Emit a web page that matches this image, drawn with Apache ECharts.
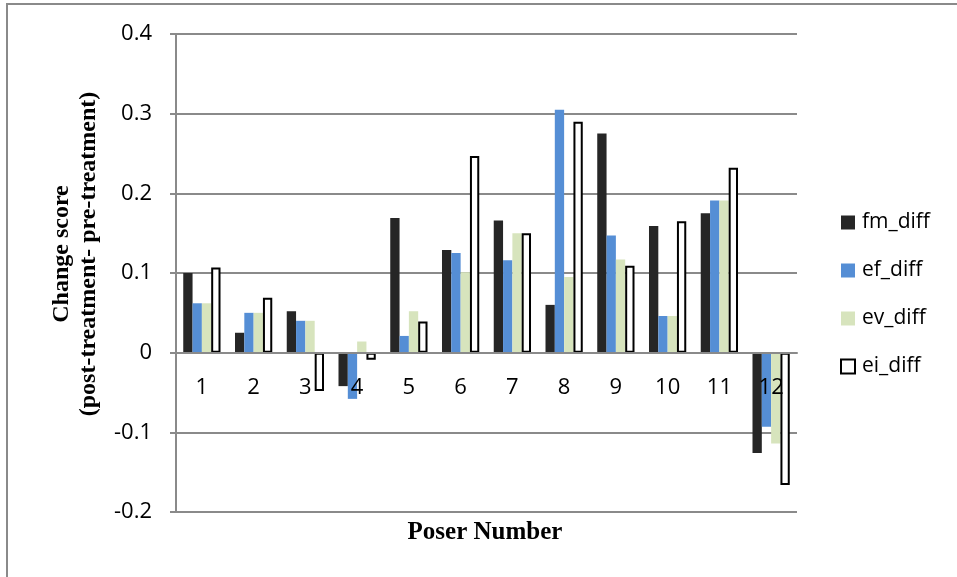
<!DOCTYPE html>
<html>
<head>
<meta charset="utf-8">
<script src="https://cdn.jsdelivr.net/npm/echarts@6/dist/echarts.min.js"></script>
<style>
  html, body { margin: 0; padding: 0; background: #fff; }
  #chart { width: 957px; height: 577px; }
</style>
</head>
<body>
<div id="chart"></div>
<script>
// Poser numbers along the category axis
const posers = ['1', '2', '3', '4', '5', '6', '7', '8', '9', '10', '11', '12'];

// Change scores (post-treatment minus pre-treatment) per measure
const fmDiff = [0.100, 0.025, 0.052, -0.042, 0.169, 0.129, 0.166, 0.060, 0.275, 0.159, 0.175, -0.126];
const efDiff = [0.062, 0.050, 0.040, -0.058, 0.021, 0.125, 0.116, 0.305, 0.147, 0.046, 0.191, -0.093];
const evDiff = [0.062, 0.050, 0.040, 0.014, 0.052, 0.101, 0.150, 0.095, 0.117, 0.046, 0.191, -0.114];
const eiDiff = [0.107, 0.069, -0.048, -0.009, 0.039, 0.247, 0.150, 0.290, 0.109, 0.165, 0.232, -0.166];

// Value axis range and step
const yMin = -0.2;
const yMax = 0.4;
const yStep = 0.1;

const seriesNames = ['fm_diff', 'ef_diff', 'ev_diff', 'ei_diff'];
const seriesValues = [fmDiff, efDiff, evDiff, eiDiff];
const seriesStyles = [
  { color: '#262626' },
  { color: '#558ed5' },
  { color: '#d7e4bd' },
  { color: '#ffffff', borderColor: '#000000', borderWidth: 2 }
];

const gridColor = '#8a8a8a';
const labelFont = '"Open Sans", "Liberation Sans", sans-serif';
const titleFont = '"Liberation Serif", "DejaVu Serif", serif';

const gridTop = 34;
const gridBottom = 65;
const chartHeight = 577;

const chart = echarts.init(document.getElementById('chart'), null, { renderer: 'canvas' });

// The category axis sits on the zero line: shift it up from the plot bottom
const plotHeight = chartHeight - gridTop - gridBottom;
const zeroShift = plotHeight * (0 - yMin) / (yMax - yMin);

chart.setOption({
  animation: false,
  backgroundColor: '#ffffff',
  grid: { left: 176, right: 160, top: gridTop, bottom: gridBottom, containLabel: false },
  legend: {
    orient: 'vertical',
    left: 840,
    top: 212,
    padding: 0,
    itemWidth: 14,
    itemHeight: 14,
    itemGap: 27,
    icon: 'rect',
    textStyle: { fontFamily: labelFont, fontSize: 21, color: '#000', padding: [0, 0, 0, 2] },
    data: seriesNames
  },
  xAxis: {
    type: 'category',
    data: posers,
    offset: -zeroShift,
    z: 5,
    axisLine: { show: true, onZero: false, lineStyle: { color: gridColor, width: 2 } },
    axisTick: { show: false },
    axisLabel: { fontFamily: labelFont, fontSize: 22, color: '#000', margin: 24 },
    splitLine: { show: false }
  },
  yAxis: {
    type: 'value',
    min: yMin,
    max: yMax,
    interval: yStep,
    axisLine: { show: true, lineStyle: { color: gridColor, width: 2 } },
    axisTick: { show: true, length: 6, lineStyle: { color: gridColor, width: 2 } },
    axisLabel: {
      fontFamily: labelFont, fontSize: 22, color: '#000', margin: 24,
      formatter: v => String(Math.round(v * 10) / 10)
    },
    splitLine: { show: true, lineStyle: { color: gridColor, width: 2 } }
  },
  series: seriesNames.map((name, i) => ({
    name: name,
    type: 'bar',
    data: seriesValues[i],
    barGap: '0%',
    barCategoryGap: '28%',
    itemStyle: seriesStyles[i]
  })),
  graphic: [
    {
      type: 'polyline',
      shape: { points: [[7, 577], [7, 4], [957, 4]] },
      style: { stroke: gridColor, lineWidth: 2, fill: null },
      silent: true
    },
    {
      type: 'text',
      x: 75,
      y: 254,
      rotation: Math.PI / 2,
      style: {
        text: 'Change score\n(post-treatment- pre-treatment)',
        font: 'bold 24px ' + titleFont,
        fill: '#000',
        align: 'center',
        verticalAlign: 'middle',
        lineHeight: 27
      }
    },
    {
      type: 'text',
      x: 485,
      y: 533,
      style: {
        text: 'Poser Number',
        font: 'bold 25px ' + titleFont,
        fill: '#000',
        align: 'center',
        verticalAlign: 'middle'
      }
    }
  ]
});
</script>
</body>
</html>
